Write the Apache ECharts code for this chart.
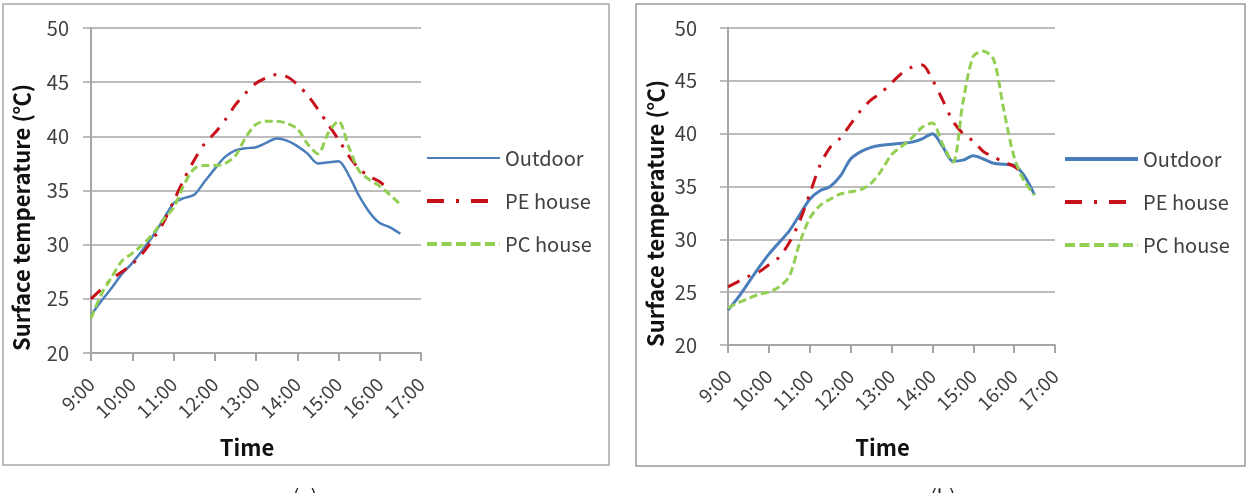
<!DOCTYPE html>
<html lang="en">
<head>
<meta charset="UTF-8">
<title>Surface temperature</title>
<script src="https://cdn.jsdelivr.net/npm/echarts@6/dist/echarts.min.js"></script>
<style>
    html, body { margin: 0; padding: 0; background: #fff; }
    #main { width: 1248px; height: 493px; }
</style>
</head>
<body>
<div id="main"></div>
<script>
// time of day in hours, every 15 minutes from 9:00
var hours = [9, 9.25, 9.5, 9.75, 10, 10.25, 10.5, 10.75, 11, 11.25, 11.5, 11.75,
    12, 12.25, 12.5, 12.75, 13, 13.25, 13.5, 13.75, 14, 14.25, 14.5, 14.75,
    15, 15.25, 15.5, 15.75, 16, 16.25, 16.5];
var tickLabels = ['9:00', '10:00', '11:00', '12:00', '13:00', '14:00', '15:00', '16:00', '17:00'];
var seriesNames = ['Outdoor', 'PE house', 'PC house'];
var panelLabels = ['(a)', '(b)'];

// (a)
var outdoorA = [23.5, 24.8, 26.0, 27.3, 28.3, 29.5, 30.8, 32.3, 33.8, 34.3, 34.6, 35.8,
    37.0, 38.1, 38.7, 38.9, 39.0, 39.4, 39.8, 39.6, 39.1, 38.4, 37.5, 37.6,
    37.7, 36.4, 34.5, 33.0, 32.0, 31.6, 31.0];
var peA = [25.0, 25.9, 26.8, 27.5, 28.2, 29.2, 30.5, 32.0, 34.0, 36.0, 37.8, 39.3,
    40.3, 41.5, 42.9, 44.0, 44.9, 45.4, 45.7, 45.5, 44.8, 43.8, 42.5, 41.1,
    39.7, 38.2, 37.0, 36.3, 35.8, 35.0];
var pcA = [23.2, 25.4, 27.0, 28.5, 29.2, 30.0, 31.0, 32.3, 33.4, 35.5, 37.0, 37.3,
    37.3, 37.5, 38.2, 39.9, 41.1, 41.4, 41.4, 41.2, 40.7, 39.3, 38.4, 40.3,
    41.4, 39.0, 36.8, 36.0, 35.4, 34.6, 33.7];

// (b)
var outdoorB = [23.3, 24.5, 25.9, 27.3, 28.6, 29.7, 30.8, 32.3, 33.8, 34.6, 35.0, 36.0,
    37.6, 38.3, 38.7, 38.9, 39.0, 39.1, 39.2, 39.5, 40.0, 38.8, 37.4, 37.5,
    37.9, 37.6, 37.2, 37.1, 37.0, 36.0, 34.2];
var peB = [25.5, 26.0, 26.5, 26.9, 27.6, 28.3, 29.7, 31.7, 34.3, 37.0, 38.7, 39.6,
    40.9, 42.2, 43.2, 43.9, 44.8, 45.7, 46.3, 46.5, 45.1, 43.2, 41.2, 40.0,
    39.3, 38.3, 37.8, 37.3, 36.9, 36.1];
var pcB = [23.5, 24.0, 24.4, 24.8, 25.0, 25.5, 26.5, 29.6, 32.0, 33.2, 33.8, 34.3,
    34.5, 34.7, 35.3, 36.5, 38.0, 38.8, 39.6, 40.6, 41.0, 39.0, 37.3, 43.0,
    47.3, 47.8, 47.0, 42.2, 37.8, 35.5, 34.2];

var FONT = '"Noto Sans CJK KR", "Noto Sans", sans-serif';
var GRAY = '#a6a6a6';
var colors = ['#4a7ebb', '#c8101a', '#92cf52'];
var lineTypes = ['solid', [13, 9, 3, 9], [8, 4]];
var legendTypes = ['solid', [17, 12, 3, 12], [10, 4.5]];

function pairs(vals) {
    var out = [];
    for (var i = 0; i < vals.length; i++) out.push([hours[i], vals[i]]);
    return out;
}

function makeX(idx, gap) {
    return {
        type: 'value', gridIndex: idx, min: 9, max: 17, interval: 1,
        name: 'Time', nameLocation: 'middle', nameGap: gap,
        nameTextStyle: { fontFamily: FONT, fontSize: 22, fontWeight: 'bold', color: '#111', padding: [0, 18, 0, 0] },
        axisLine: { show: true, lineStyle: { color: GRAY, width: 2 } },
        axisTick: { show: true, length: 8, lineStyle: { color: GRAY, width: 2 } },
        splitLine: { show: false },
        axisLabel: {
            rotate: 45, margin: 28, fontFamily: FONT, fontSize: 19, color: '#404040',
            formatter: function (v) { return tickLabels[v - 9]; }
        }
    };
}

function makeY(idx, margin, gap) {
    return {
        type: 'value', gridIndex: idx, min: 20, max: 50, interval: 5,
        name: 'Surface temperature (℃)', nameLocation: 'middle', nameGap: gap,
        // extra right padding pushes the rotated title down a little, as in the source
        nameTextStyle: { fontFamily: FONT, fontSize: 22, fontWeight: 'bold', color: '#111', padding: [0, 54, 0, 0] },
        axisLine: { show: true, lineStyle: { color: GRAY, width: 2 } },
        axisTick: { show: true, length: 8, lineStyle: { color: GRAY, width: 1.5 } },
        splitLine: { show: true, lineStyle: { color: GRAY, width: 1.5 } },
        axisLabel: { margin: margin, fontFamily: FONT, fontSize: 20, color: '#404040' }
    };
}

function makeSeries(idx, sets, widths) {
    return sets.map(function (vals, k) {
        return {
            name: seriesNames[k], type: 'line', xAxisIndex: idx, yAxisIndex: idx,
            data: pairs(vals), smooth: 0.3, symbol: 'none',
            lineStyle: { color: colors[k], width: widths[k], type: lineTypes[k] },
            itemStyle: { color: colors[k] }
        };
    });
}

function makeLegend(left, top, widths) {
    return {
        data: seriesNames.map(function (n, k) {
            return { name: n, lineStyle: { color: colors[k], width: widths[k], type: legendTypes[k], opacity: 1 } };
        }),
        orient: 'vertical', left: left, top: top,
        itemWidth: 73, itemHeight: 14, itemGap: 21, selectedMode: false,
        itemStyle: { opacity: 0 },
        textStyle: { fontFamily: FONT, fontSize: 20, color: '#404040', lineHeight: 22 }
    };
}

var myChart = echarts.init(document.getElementById('main'));

var option = {
    animation: false,
    backgroundColor: '#fff',
    grid: [
        { left: 91, top: 28, width: 330, height: 325 },
        { left: 728, top: 28, width: 327, height: 317 }
    ],
    xAxis: [makeX(0, 84), makeX(1, 92)],
    yAxis: [makeY(0, 22, 58), makeY(1, 31, 61)],
    legend: [makeLegend(420, 142, [2, 4, 4]), makeLegend(1058, 143, [4, 4, 4])],
    series: makeSeries(0, [outdoorA, peA, pcA], [2.5, 3, 3])
        .concat(makeSeries(1, [outdoorB, peB, pcB], [3, 3, 3])),
    graphic: [
        { type: 'rect', shape: { x: 3, y: 4, width: 606, height: 461 },
          style: { fill: 'none', stroke: '#a6a6a6', lineWidth: 1.5 } },
        { type: 'rect', shape: { x: 636, y: 4, width: 609, height: 462 },
          style: { fill: 'none', stroke: '#999', lineWidth: 1.5 } },
        { type: 'text', x: 305, y: 486, style: { text: panelLabels[0], fontFamily: FONT, fontSize: 20, fill: '#222', align: 'center', verticalAlign: 'top' } },
        { type: 'text', x: 943, y: 486, style: { text: panelLabels[1], fontFamily: FONT, fontSize: 20, fill: '#222', align: 'center', verticalAlign: 'top' } }
    ]
};

myChart.setOption(option);
window.onresize = myChart.resize;
</script>
</body>
</html>
